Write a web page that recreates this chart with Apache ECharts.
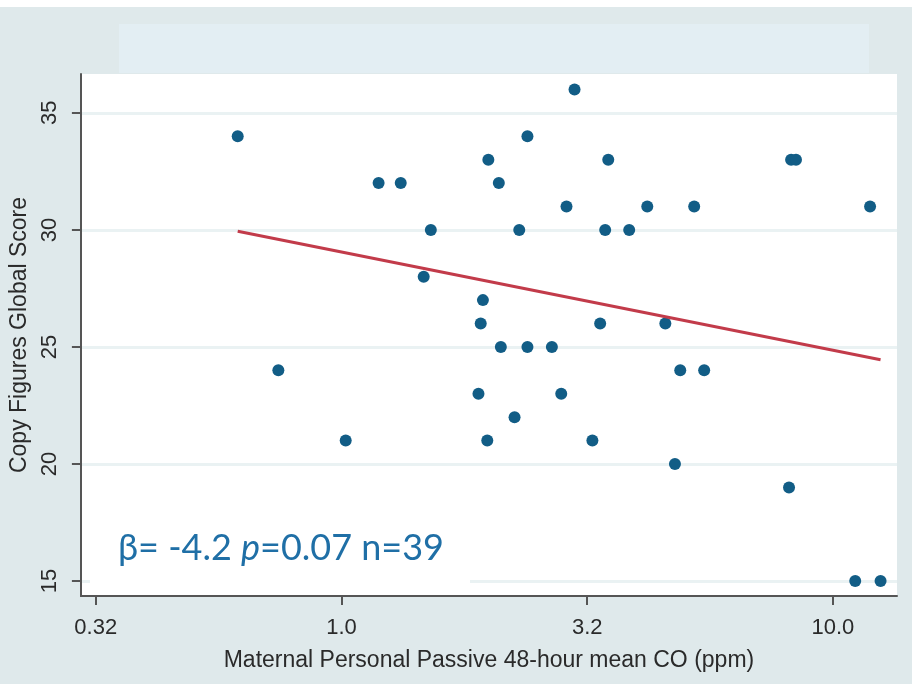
<!DOCTYPE html>
<html>
<head>
<meta charset="utf-8">
<script src="https://cdn.jsdelivr.net/npm/echarts@6/dist/echarts.min.js"></script>
<style>html,body{margin:0;padding:0;background:#fff}#c{width:912px;height:684px}</style>
</head>
<body>
<div id="c"></div>
<script>
// Maternal personal passive 48-hour mean CO (ppm)
const coPpm = [0.615, 0.744, 1.02, 1.19, 1.32, 1.52, 1.47, 1.90, 1.92, 1.94,
  1.99, 1.98, 2.09, 2.11, 2.25, 2.30, 2.39, 2.39, 2.68, 2.80,
  2.87, 2.98, 3.24, 3.36, 3.44, 3.49, 3.85, 4.19, 4.56, 4.77,
  4.89, 5.22, 5.47, 8.14, 8.22, 8.41, 11.1, 11.9, 12.5];
// Copy Figures Global Score
const score = [34, 24, 21, 32, 32, 30, 28, 23, 26, 27,
  33, 21, 32, 25, 22, 30, 34, 25, 25, 23,
  31, 36, 21, 26, 30, 33, 30, 31, 26, 20,
  24, 31, 24, 19, 33, 33, 15, 31, 15];
// fitted regression line endpoints
const fitX = [0.615, 12.5];
const fitY = [29.94, 24.45];
// tick values and labels
const xTickValues = [0.3162, 1, 3.162, 10];
const xTickLabels = ['0.32', '1.0', '3.2', '10.0'];
const yTickValues = [15, 20, 25, 30, 35];

const chart = echarts.init(document.getElementById('c'));
const font = '"Liberation Sans", Arial, sans-serif';
chart.setOption({
  backgroundColor: '#dfe9eb',
  animation: false,
  graphic: [
    {type: 'rect', shape: {x: 0, y: 0, width: 912, height: 7}, style: {fill: '#ffffff'}, z: -10},
    {type: 'rect', shape: {x: 119, y: 24, width: 750, height: 49}, style: {fill: '#e3eef3'}, z: -10},
    {type: 'text', left: 90, top: 524, z: 100,
      style: {
        text: '{a|β= -4.2 }{i|p}{a|=0.07 n=39}',
        backgroundColor: '#ffffff',
        padding: [6, 26, 20, 28],
        rich: {
          a: {fontFamily: 'Lato, "Open Sans", sans-serif', fontSize: 36, fill: '#1f6fa6'},
          i: {fontFamily: 'Lato, "Open Sans", sans-serif', fontSize: 36, fontStyle: 'italic', fill: '#1f6fa6'}
        }
      }
    }
  ],
  grid: {left: 80, right: 15, top: 74, bottom: 88, show: true, backgroundColor: '#ffffff', borderWidth: 0},
  xAxis: {
    type: 'log', logBase: 10, min: 0.295, max: 13.5,
    name: 'Maternal Personal Passive 48-hour mean CO (ppm)',
    nameLocation: 'middle', nameGap: 53,
    nameTextStyle: {fontFamily: font, fontSize: 23, color: '#2a2a2a'},
    axisLine: {lineStyle: {color: '#555', width: 2}},
    axisTick: {length: 9, lineStyle: {color: '#555', width: 2}, customValues: xTickValues},
    axisLabel: {customValues: xTickValues, fontFamily: font, fontSize: 22, color: '#2a2a2a', margin: 21,
      formatter: function (v) {
        let best = 0;
        for (let i = 0; i < xTickValues.length; i++) if (Math.abs(xTickValues[i] - v) < Math.abs(xTickValues[best] - v)) best = i;
        return xTickLabels[best];
      }},
    splitLine: {show: false}
  },
  yAxis: {
    type: 'value', min: 14.36, max: 36.66,
    name: 'Copy Figures Global Score',
    nameLocation: 'middle', nameGap: 47,
    nameTextStyle: {fontFamily: font, fontSize: 23, color: '#2a2a2a'},
    axisLine: {show: true, lineStyle: {color: '#555', width: 2}},
    axisTick: {show: true, length: 9, lineStyle: {color: '#555', width: 2}, customValues: yTickValues},
    axisLabel: {customValues: yTickValues, rotate: 90, fontFamily: font, fontSize: 22, color: '#2a2a2a', margin: 20},
    splitLine: {show: true, lineStyle: {color: '#eaf2f3', width: 3}}
  },
  series: [
    {
      type: 'scatter', symbol: 'circle', symbolSize: 12,
      itemStyle: {color: '#125d86', opacity: 1},
      data: coPpm.map((x, i) => [x, score[i]]), z: 3
    },
    {
      type: 'line', symbol: 'none', silent: true,
      lineStyle: {color: '#c23b4a', width: 3},
      data: fitX.map((x, i) => [x, fitY[i]]), z: 4
    }
  ]
});
</script>
</body>
</html>
